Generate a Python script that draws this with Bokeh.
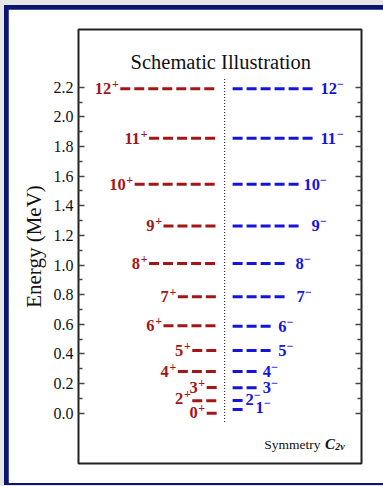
import numpy as np
from bokeh.plotting import figure
from bokeh.models import Range1d, FixedTicker, LinearAxis, ColumnDataSource, Label
from bokeh.layouts import column
from bokeh.embed import file_html
from bokeh.resources import INLINE
from bokeh.core.properties import value

# ---------------- data ----------------
pos_spins = ["0", "2", "3", "4", "5", "6", "7", "8", "9", "10", "11", "12"]
pos_energy = [0.000, 0.084, 0.173, 0.281, 0.423, 0.590, 0.785, 1.010, 1.264, 1.545, 1.855, 2.190]
pos_length = [0.7, 1.7, 0.7, 2.7, 1.7, 3.7, 2.7, 4.7, 3.7, 5.7, 4.7, 6.7]

neg_spins = ["1", "2", "3", "4", "5", "6", "7", "8", "9", "10", "11", "12"]
neg_energy = [0.025, 0.086, 0.171, 0.281, 0.423, 0.587, 0.785, 1.010, 1.264, 1.545, 1.856, 2.190]
neg_length = [0.75, 0.75, 1.75, 1.75, 2.75, 2.75, 3.75, 3.75, 4.72, 4.72, 5.75, 5.75]

tick_values = [0.0, 0.2, 0.4, 0.6, 0.8, 1.0, 1.2, 1.4, 1.6, 1.8, 2.0, 2.2]
tick_labels = ["0.0", "0.2", "0.4", "0.6", "0.8", "1.0", "1.2", "1.4", "1.6", "1.8", "2.0", "2.2"]
minor_values = [0.1, 0.3, 0.5, 0.7, 0.9, 1.1, 1.3, 1.5, 1.7, 1.9, 2.1]

separator_y = [-0.06, 2.26]

# ---------------- layout / style ----------------
RED = "#a31616"
BLUE = "#1414dc"
NAVY = "#0b1570"
GRAY = "#e5e5e5"
FONT = "Liberation Serif"
GAP = 0.55          # distance of levels from the central separator (x units)
DIGIT_W = 8.0       # px width of one bold digit at 16px
SIGN_W = 7.5        # px width of the superscript sign
neg_label_dx = [12, 2, 5, 5, 6, 6, 10, 9, 11, 3, 5, 5]
neg_label_dy = [-2, -1, 0, 0, 0, 0, 0, 0, 0, 0, 0, 0]
pos_label_dy = [-1, -2, 0, 0, 0, 0, 0, 0, 0, 0, 0, 0]
SUP_RAISE = -4.5

p = figure(width=375, height=474, output_backend="svg", toolbar_location=None,
           x_range=Range1d(-10.15, 9.5), y_range=Range1d(-0.34, 2.59),
           x_axis_location=None,
           min_border_left=70, min_border_right=22, min_border_top=20, min_border_bottom=20)
p.xgrid.visible = False
p.ygrid.visible = False
p.outline_line_color = "#222222"
p.outline_line_width = 2
p.background_fill_color = "white"
p.border_fill_color = "white"

ticker = FixedTicker(ticks=tick_values, minor_ticks=minor_values)
yax = p.yaxis[0]
yax.ticker = ticker
yax.major_label_overrides = dict(zip(tick_values, tick_labels))
yax.axis_label = "Energy (MeV)"
yax.axis_label_text_font = FONT
yax.axis_label_text_font_size = "21px"
yax.axis_label_text_font_style = "normal"
yax.axis_label_text_color = "#111111"
yax.axis_label_standoff = 5
yax.major_label_text_font = FONT
yax.major_label_text_font_size = "16px"
yax.major_label_text_color = "#111111"
yax.major_label_standoff = 5
yax.axis_line_color = None
yax.major_tick_in = 6
yax.major_tick_out = 0
yax.minor_tick_in = 4
yax.minor_tick_out = 0
yax.major_tick_line_color = "#444444"
yax.minor_tick_line_color = "#444444"
yax.major_tick_line_width = 1.3
yax.minor_tick_line_width = 1.3

rax = LinearAxis(ticker=ticker)
rax.major_label_overrides = {v: "" for v in tick_values}
rax.major_label_text_font_size = "0px"
rax.axis_line_color = None
rax.major_tick_in = 6
rax.major_tick_out = 0
rax.minor_tick_in = 4
rax.minor_tick_out = 0
rax.major_tick_line_color = "#444444"
rax.minor_tick_line_color = "#444444"
rax.major_tick_line_width = 1.3
rax.minor_tick_line_width = 1.3
p.add_layout(rax, "right")

pos_len = np.array(pos_length)
neg_len = np.array(neg_length)
pos_dy = np.array(pos_label_dy, dtype=float)
neg_dy = np.array(neg_label_dy, dtype=float)
neg_dx = np.array(neg_label_dx, dtype=float)
neg_sign_dx = neg_dx + DIGIT_W * np.array([len(s) for s in neg_spins]) + 0.5

pos_src = ColumnDataSource(dict(
    x0=-(GAP + pos_len), x1=-GAP + 0 * pos_len, y=pos_energy,
    num=pos_spins, sign=["+"] * len(pos_spins),
    dy=pos_dy, sdy=pos_dy + SUP_RAISE))
neg_src = ColumnDataSource(dict(
    x0=GAP + 0 * neg_len, x1=GAP + neg_len, y=neg_energy,
    num=neg_spins, sign=["\u2212"] * len(neg_spins),
    dx=neg_dx, sdx=neg_sign_dx, dy=neg_dy, sdy=neg_dy + SUP_RAISE))

p.segment(x0="x0", y0="y", x1="x1", y1="y", source=pos_src, line_color=RED,
          line_width=3, line_dash="10 4", line_cap="butt")
p.segment(x0="x0", y0="y", x1="x1", y1="y", source=neg_src, line_color=BLUE,
          line_width=3, line_dash="10 4", line_cap="butt")
p.line(x=[0, 0], y=separator_y, line_color="black", line_width=1, line_dash="1 2")

# positive-parity labels (right-aligned left of the level)
p.text(x="x0", y="y", text="num", source=pos_src, x_offset=-1.5 - SIGN_W, y_offset="dy",
       text_align="right", text_baseline="middle", text_color=RED,
       text_font=value(FONT), text_font_style="bold", text_font_size="16.5px")
p.text(x="x0", y="y", text="sign", source=pos_src, x_offset=-1.5, y_offset="sdy",
       text_align="right", text_baseline="middle", text_color=RED,
       text_font=value(FONT), text_font_style="bold", text_font_size="12px")
# negative-parity labels (left-aligned right of the level)
p.text(x="x1", y="y", text="num", source=neg_src, x_offset="dx", y_offset="dy",
       text_align="left", text_baseline="middle", text_color=BLUE,
       text_font=value(FONT), text_font_style="bold", text_font_size="16.5px")
p.text(x="x1", y="y", text="sign", source=neg_src, x_offset="sdx", y_offset="sdy",
       text_align="left", text_baseline="middle", text_color=BLUE,
       text_font=value(FONT), text_font_style="bold", text_font_size="12px")

p.add_layout(Label(x=-0.27, y=2.368, text="Schematic Illustration", text_align="center",
                   text_baseline="alphabetic", text_font=FONT, text_font_size="20.5px",
                   text_color="#111111"))
p.add_layout(Label(x=6.65, y=-0.211, text="Symmetry", text_align="right",
                   text_baseline="middle", text_font=FONT, text_font_size="13.5px",
                   text_color="#111111"))
p.add_layout(Label(x=6.97, y=-0.211, text="C", text_align="left",
                   text_baseline="middle", text_font=FONT, text_font_size="15px",
                   text_font_style="bold italic", text_color="#111111"))
p.add_layout(Label(x=7.68, y=-0.228, text="2v", text_align="left",
                   text_baseline="middle", text_font=FONT, text_font_size="10px",
                   text_font_style="bold italic", text_color="#111111"))

inner = column(p, styles={"background-color": NAVY, "padding": "4px 0px 2px 4px"})
outer = column(inner, styles={"background-color": GRAY, "padding": "5px 0px 1px 4px"})

open("out.html", "w").write(file_html(outer, INLINE))
